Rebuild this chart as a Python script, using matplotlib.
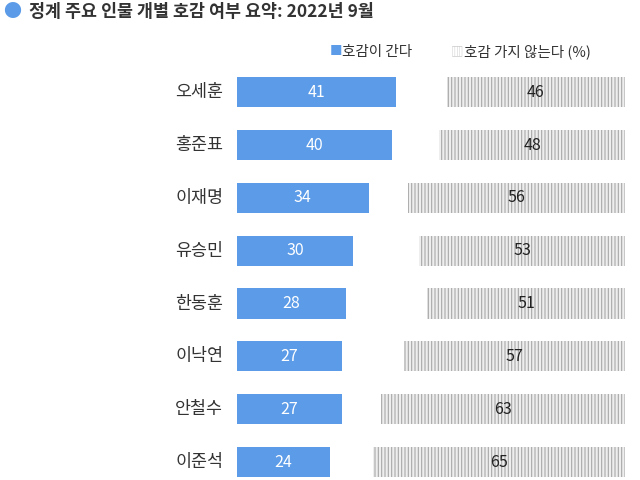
import matplotlib

matplotlib.use("Agg")
import matplotlib.pyplot as plt

plt.rcParams["font.family"] = ["Noto Sans CJK KR", "DejaVu Sans"]
plt.rcParams["hatch.linewidth"] = 0.8
plt.rcParams["hatch.color"] = "#a8a8a8"

names = ["오세훈", "홍준표", "이재명", "유승민", "한동훈", "이낙연", "안철수", "이준석"]
favorable = [41, 40, 34, 30, 28, 27, 27, 24]
unfavorable = [46, 48, 56, 53, 51, 57, 63, 65]

BLUE = "#5b9be8"

fig = plt.figure(figsize=(6.4, 4.8), dpi=100)
ax = fig.add_axes([0.37, 0.0, 0.607, 0.863])
ys = range(len(names))
ax.barh(ys, favorable, height=0.57, color=BLUE)
ax.barh(ys, unfavorable, left=[100 - u for u in unfavorable], height=0.57,
        facecolor="#eeeeee", edgecolor="#a8a8a8", hatch="|||||", linewidth=0)
for i, (f, u) in enumerate(zip(favorable, unfavorable)):
    ax.text(f / 2, i, str(f), ha="center", va="center", color="white", fontsize=11.5)
    ax.text(100 - u / 2, i, str(u), ha="center", va="center", color="#222222", fontsize=11.5)
    ax.text(-3.5, i, names[i], ha="right", va="center", color="#333333", fontsize=12.5)
ax.set_xlim(0, 100)
ax.set_ylim(7.34, -0.5)
ax.axis("off")

fig.text(0.005, 0.975, "●", color=BLUE, fontsize=13, va="center")
fig.text(0.045, 0.975, "정계 주요 인물 개별 호감 여부 요약: 2022년 9월", fontsize=12.5,
         fontweight="bold", color="#333333", va="center")
fig.text(0.515, 0.892, "■", color=BLUE, fontsize=9, va="center")
fig.text(0.535, 0.892, "호감이 간다", color="#333333", fontsize=10.5, va="center")
fig.text(0.705, 0.892, "▥", color="#cccccc", fontsize=9, va="center")
fig.text(0.725, 0.892, "호감 가지 않는다 (%)", color="#333333", fontsize=10.5, va="center")

fig.savefig("out.png", dpi=100)
